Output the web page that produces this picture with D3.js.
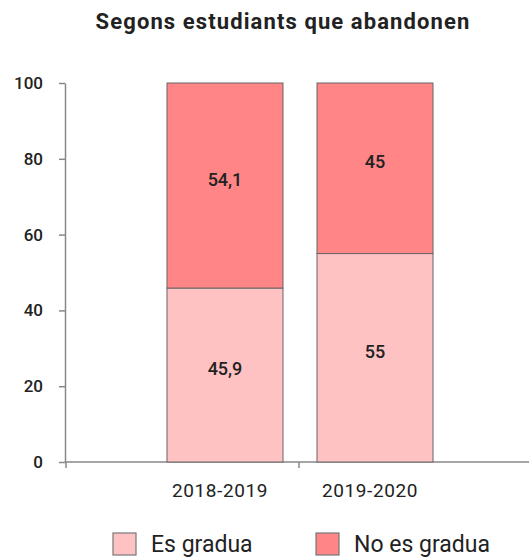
<!DOCTYPE html>
<html><head><meta charset="utf-8">
<script src="https://cdn.jsdelivr.net/npm/d3@7"></script>
<style>body{margin:0;background:#fff}text{font-family:Roboto,sans-serif;fill:#222}</style>
</head><body><svg id="c" width="529" height="559"></svg>
<script>
const categories = ["2018-2019", "2019-2020"];
const seriesNames = ["Es gradua", "No es gradua"];
const esGradua = [45.9, 55];
const noEsGradua = [54.1, 45];
const esGraduaLabels = ["45,9", "55"];
const noEsGraduaLabels = ["54,1", "45"];
const yTicks = [0, 20, 40, 60, 80, 100];
const titleText = "Segons estudiants que abandonen";
const colors = ["#ffc2c2", "#ff8587"];

const svg = d3.select("#c");
const plotLeft = 65, plotRight = 529;

const x = d3.scaleBand().domain(categories).range([150, 450])
  .paddingInner(0.2267).paddingOuter(0.1133);
const y = d3.scaleLinear().domain([0, 100]).range([462, 83]);

const rows = categories.map((c, i) => ({cat: c, "Es gradua": esGradua[i], "No es gradua": noEsGradua[i]}));
const stack = d3.stack().keys(seriesNames)(rows);
const labels = [esGraduaLabels, noEsGraduaLabels];

svg.append("text").attr("x", 283).attr("y", 29).attr("text-anchor", "middle")
  .style("font-size", "22px").style("font-weight", "bold").style("letter-spacing", "1.1px").text(titleText);

// y axis
const ya = svg.append("g").attr("transform", `translate(${plotLeft},0)`)
  .call(d3.axisLeft(y).tickValues(yTicks).tickSize(6).tickSizeOuter(0).tickPadding(16));
ya.selectAll("text").style("font-size", "17px").style("font-weight", 500).attr("fill", "#222");
ya.selectAll("line, path").attr("stroke", "#888").attr("stroke-width", 1.5);

// x axis
svg.append("line").attr("x1", plotLeft).attr("x2", plotRight).attr("y1", y(0)).attr("y2", y(0))
  .attr("stroke", "#888").attr("stroke-width", 1.5);
const step = x.step();
const xTickPos = [plotLeft + 1, x(categories[1]) - step * x.paddingInner() / 2 - 1];
svg.selectAll(".xt").data(xTickPos).join("line")
  .attr("x1", d => d).attr("x2", d => d).attr("y1", y(0)).attr("y2", y(0) + 6)
  .attr("stroke", "#888").attr("stroke-width", 1.5);
svg.selectAll(".xl").data(categories).join("text")
  .attr("x", d => x(d) + x.bandwidth() / 2 - 5).attr("y", 497).attr("text-anchor", "middle")
  .style("font-size", "19px").style("font-weight", 400).style("letter-spacing", "0.6px").text(d => d);

// bars
stack.forEach((s, si) => {
  svg.append("g").selectAll("rect").data(s).join("rect")
    .attr("x", d => x(d.data.cat)).attr("width", x.bandwidth())
    .attr("y", d => y(d[1])).attr("height", d => y(d[0]) - y(d[1]))
    .attr("fill", colors[si]).attr("stroke", "#666").attr("stroke-width", 1);
  svg.append("g").selectAll("text").data(s).join("text")
    .attr("x", d => x(d.data.cat) + x.bandwidth() / 2)
    .attr("y", d => (y(d[0]) + y(d[1])) / 2)
    .attr("text-anchor", "middle").style("font-size", "18px").style("font-weight", 500)
    .text((d, i) => labels[si][i]);
});

// legend
const legX = [113, 316];
const lg = svg.selectAll(".lg").data(seriesNames).join("g")
  .attr("transform", (d, i) => `translate(${legX[i]},533)`);
lg.append("rect").attr("width", 23).attr("height", 22)
  .attr("fill", (d, i) => colors[i]).attr("stroke", "#777").attr("stroke-width", 1.2);
lg.append("text").attr("x", 38).attr("y", 19).style("font-size", "23px").text(d => d);
</script></body></html>
